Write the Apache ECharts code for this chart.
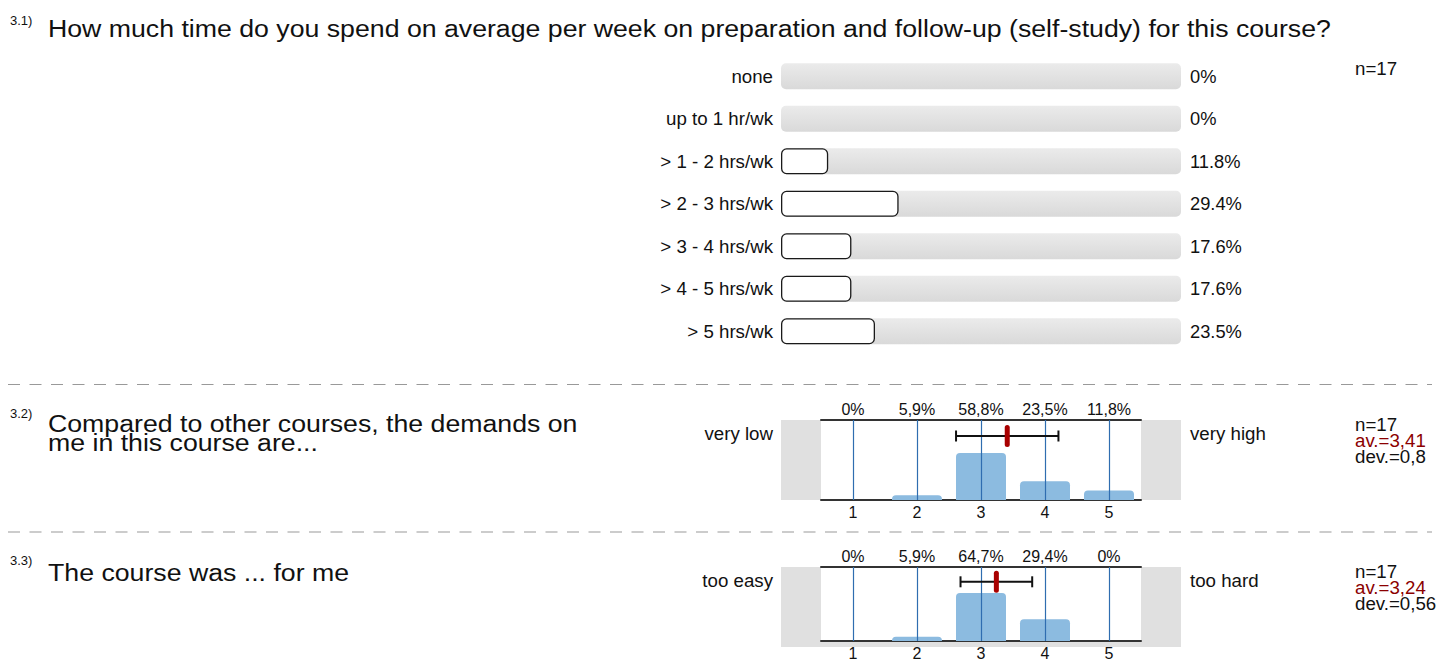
<!DOCTYPE html>
<html>
<head>
<meta charset="utf-8">
<script src="https://cdn.jsdelivr.net/npm/echarts@6/dist/echarts.min.js"></script>
<style>
  html, body { margin: 0; background: #fff; }
  #chart { width: 1436px; height: 661px; }
</style>
</head>
<body>
<div id="chart"></div>
<script>
// 3.1) time per week
const timeCats = ["none", "up to 1 hr/wk", "> 1 - 2 hrs/wk", "> 2 - 3 hrs/wk", "> 3 - 4 hrs/wk", "> 4 - 5 hrs/wk", "> 5 hrs/wk"];
const timePct = [0, 0, 11.8, 29.4, 17.6, 17.6, 23.5];
const timeN = 17;

// scale questions
const scaleTicks = ["1", "2", "3", "4", "5"];
const demandPct = [0, 5.9, 58.8, 23.5, 11.8];
const demandStats = [3.41, 0.8]; // mean, deviation
const demandN = 17;
const hardPct = [0, 5.9, 64.7, 29.4, 0];
const hardStats = [3.24, 0.56];
const hardN = 17;

const FONT = "Liberation Sans, Arial, Helvetica, sans-serif";
const LBL = 18.7; // side label size
const comma = v => String(v).replace(".", ",");

function errorBar(params, api) {
  const cs = params.coordSys;
  const y = cs.y + cs.height * 0.2;
  const m = api.value(0), d = api.value(1);
  const x0 = api.coord([m - d, 0])[0];
  const x1 = api.coord([m + d, 0])[0];
  const xm = api.coord([m, 0])[0];
  const ln = { stroke: "#111", lineWidth: 2 };
  return {
    type: "group",
    children: [
      { type: "line", shape: { x1: x0, y1: y, x2: x1, y2: y }, style: ln },
      { type: "line", shape: { x1: x0, y1: y - 5.5, x2: x0, y2: y + 5.5 }, style: ln },
      { type: "line", shape: { x1: x1, y1: y - 5.5, x2: x1, y2: y + 5.5 }, style: ln },
      { type: "rect", shape: { x: xm - 2.5, y: y - 11, width: 5, height: 22, r: 2.5 }, style: { fill: "#a80000" } }
    ]
  };
}

const chart = echarts.init(document.getElementById("chart"), null, { renderer: "svg" });

// one scale block: outer gray grid + inner white grid with axes
// gi = first grid index, xi = first xAxis index, yi = first yAxis index
function scaleBlock(top, gi, xi, yi, pct, stats) {
  return {
    grid: [
      { left: 781, top: top, width: 400, height: 80, show: true, backgroundColor: "#e0e0e0", borderWidth: 0 },
      { left: 821, top: top, width: 320, height: 80, show: true, backgroundColor: "#fff", borderWidth: 0 }
    ],
    xAxis: [
      { gridIndex: gi, type: "value", show: false },
      {
        gridIndex: gi + 1, type: "category", data: scaleTicks, position: "bottom",
        axisLine: { lineStyle: { color: "#333", width: 2 } }, axisTick: { show: false },
        axisLabel: { fontFamily: FONT, fontSize: 16, color: "#111", margin: 4 }
      },
      {
        gridIndex: gi + 1, type: "category", data: pct.map(v => comma(v) + "%"), position: "top",
        axisLine: { lineStyle: { color: "#333", width: 2 } }, axisTick: { show: false },
        axisLabel: { fontFamily: FONT, fontSize: 16, color: "#111", margin: 3 }
      },
      { gridIndex: gi + 1, type: "value", min: 0.5, max: 5.5, show: false }
    ],
    yAxis: [
      { gridIndex: gi, type: "value", show: false },
      { gridIndex: gi + 1, type: "value", min: 0, max: 100, show: false }
    ],
    series: [
      {
        type: "bar", xAxisIndex: xi + 1, yAxisIndex: yi + 1, data: pct, barWidth: 50,
        itemStyle: { color: "#8cbbe0", borderRadius: [4, 4, 0, 0] },
        markLine: {
          silent: true, symbol: "none", animation: false,
          label: { show: false },
          lineStyle: { color: "#2f6db0", width: 1.2, type: "solid", opacity: 1 },
          data: scaleTicks.map(t => ({ xAxis: t }))
        }
      },
      {
        type: "custom", xAxisIndex: xi + 3, yAxisIndex: yi + 1,
        renderItem: errorBar, data: [stats], z: 5
      }
    ]
  };
}

const b2 = scaleBlock(420, 1, 1, 2, demandPct, demandStats);
const b3 = scaleBlock(567, 3, 5, 4, hardPct, hardStats);

const txt = (x, y, text, size, extra) => ({
  type: "text", x: x, y: y,
  style: Object.assign({ text: text, fontFamily: FONT, fontSize: size, fill: "#111", verticalAlign: "middle" }, extra || {})
});
// question texts are slightly wide in the original
const question = (y, text, lh) => Object.assign(txt(48, y, text, 24.6, { lineHeight: lh || 28 }), { scaleX: 1.085 });
const stats = (x, y, n, s) => ({
  type: "text", x: x, y: y,
  style: {
    text: "{a|n=" + n + "}\n{b|av.=" + comma(s[0]) + "}\n{a|dev.=" + comma(s[1]) + "}",
    fontFamily: FONT, verticalAlign: "top",
    rich: {
      a: { fontFamily: FONT, fontSize: LBL, lineHeight: 16, fill: "#111", color: "#111" },
      b: { fontFamily: FONT, fontSize: LBL, lineHeight: 16, fill: "#8b0000", color: "#8b0000" }
    }
  }
});
const dash = y => ({
  type: "line", shape: { x1: 8, y1: y, x2: 1432, y2: y },
  style: { stroke: "#999", lineWidth: 1.2, lineDash: [12, 9.5] }
});

const option = {
  animation: false,
  grid: [
    { left: 781, top: 55, width: 400, height: 297.5 }
  ].concat(b2.grid, b3.grid),
  xAxis: [
    { gridIndex: 0, type: "value", min: 0, max: 100, show: false }
  ].concat(b2.xAxis, b3.xAxis),
  yAxis: [
    {
      gridIndex: 0, type: "category", data: timeCats, inverse: true,
      axisLine: { show: false }, axisTick: { show: false },
      axisLabel: { fontFamily: FONT, fontSize: LBL, color: "#111", margin: 8 }
    },
    {
      gridIndex: 0, type: "category", data: timePct.map(v => v + "%"), inverse: true, position: "right",
      axisLine: { show: false }, axisTick: { show: false },
      axisLabel: { fontFamily: FONT, fontSize: 18.3, color: "#111", margin: 9 }
    }
  ].concat(b2.yAxis, b3.yAxis),
  series: [
    {
      type: "bar", xAxisIndex: 0, yAxisIndex: 0, barWidth: 26,
      data: timePct.map(v => (v > 0 ? v : { value: v, itemStyle: { borderWidth: 0 } })),
      itemStyle: { color: "#fff", borderColor: "#1a1a1a", borderWidth: 1.3, borderRadius: 5 },
      showBackground: true,
      backgroundStyle: {
        borderRadius: 5,
        color: new echarts.graphic.LinearGradient(0, 0, 0, 1, [
          { offset: 0, color: "#ebebeb" },
          { offset: 1, color: "#d9d9d9" }
        ])
      }
    }
  ].concat(b2.series, b3.series),
  graphic: [
    txt(10, 20, "3.1)", 13),
    question(28, "How much time do you spend on average per week on preparation and follow-up (self-study) for this course?"),
    txt(1355, 68, "n=" + timeN, LBL),
    dash(384.5),

    txt(10, 413, "3.2)", 13),
    question(433, "Compared to other courses, the demands on\nme in this course are...", 18.5),
    txt(773, 433, "very low", LBL, { align: "right" }),
    txt(1190, 433, "very high", LBL),
    stats(1355, 416, demandN, demandStats),
    dash(532),

    txt(10, 560, "3.3)", 13),
    question(572, "The course was ... for me"),
    txt(773, 580, "too easy", LBL, { align: "right" }),
    txt(1190, 580, "too hard", LBL),
    stats(1355, 563, hardN, hardStats)
  ]
};

chart.setOption(option);
</script>
</body>
</html>
